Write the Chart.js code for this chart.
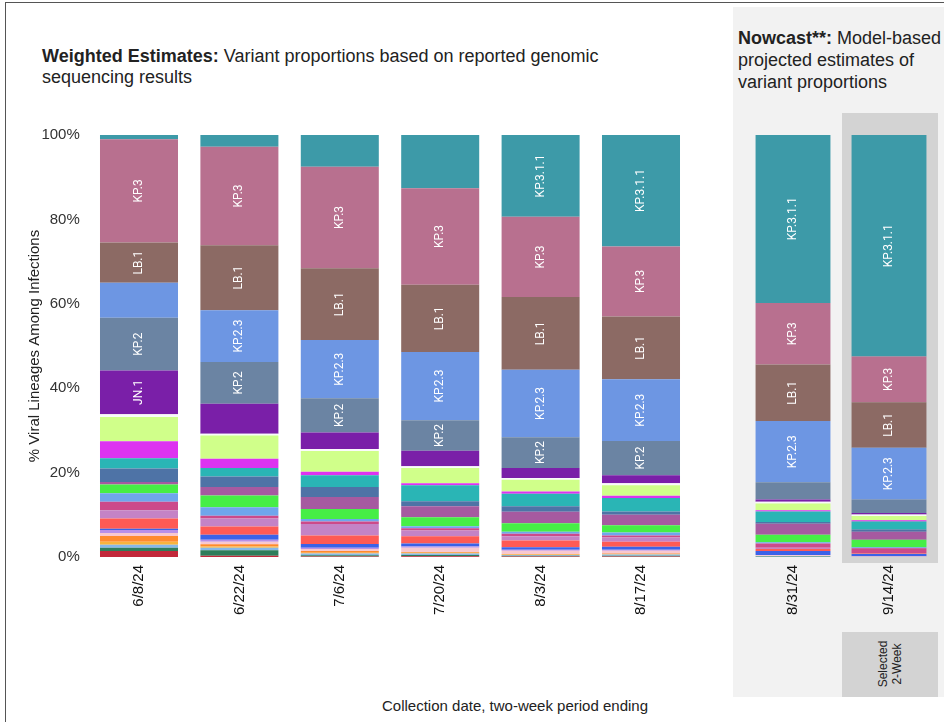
<!DOCTYPE html>
<html>
<head>
<meta charset="utf-8">
<script src="https://cdn.jsdelivr.net/npm/chart.js@4.4.1/dist/chart.umd.min.js"></script>
<style>
  body { margin: 0; width: 944px; height: 722px; position: relative; overflow: hidden; background: #fff;
         font-family: "Liberation Sans", Arial, sans-serif; color: #222; }
  #frame { position: absolute; left: 5px; top: 2px; width: 980px; height: 760px; border: 1.5px solid #555; }
  #nowbg { position: absolute; left: 733px; top: 7px; width: 211px; height: 690px; background: #f2f2f2; }
  #selcol { position: absolute; left: 842px; top: 113px; width: 96px; height: 450px; background: #d3d3d3; }
  #selbox { position: absolute; left: 842px; top: 632px; width: 96px; height: 65px; background: #d3d3d3; }
  #selbox div { position: absolute; left: 48px; top: 32px; width: 70px; transform: translate(-50%, -50%) rotate(-90deg);
                font-size: 12px; line-height: 14px; text-align: center; color: #222; }
  .title { position: absolute; font-size: 18px; }
  #t1 { left: 42px; top: 46px; line-height: 21px; width: 575px; }
  #t2 { left: 738px; top: 27px; line-height: 22px; width: 215px; }
  #xtitle { position: absolute; left: 315px; top: 697px; width: 400px; text-align: center; font-size: 15px; }
  #left { position: absolute; left: 0; top: 0; width: 700px; height: 722px; }
  #right { position: absolute; left: 733px; top: 0; width: 211px; height: 722px; }
</style>
</head>
<body>
<div id="frame"></div>
<div id="nowbg"></div>
<div id="selcol"></div>
<div id="selbox"><div>Selected<br>2-Week</div></div>
<div class="title" id="t1"><b>Weighted Estimates:</b> Variant proportions based on reported genomic sequencing results</div>
<div class="title" id="t2"><b>Nowcast**:</b> Model-based projected estimates of variant proportions</div>
<div id="xtitle">Collection date, two-week period ending</div>
<div id="left"><canvas id="leftChart" width="700" height="722"></canvas></div>
<div id="right"><canvas id="rightChart" width="211" height="722"></canvas></div>

<script>
// two-week periods: first 6 are weighted estimates, last 2 are nowcast
var dates = ["6/8/24", "6/22/24", "7/6/24", "7/20/24", "8/3/24", "8/17/24", "8/31/24", "9/14/24"];

// % of infections per lineage, one value per period (stack order: bottom to top)
var xdp      = [1.4, 0.3, 0.1, 0.2, 0.1, 0.1, 0, 0];
var jn1131   = [0.8, 1.3, 0.3, 0.3, 0.2, 0.2, 0.1, 0];
var jn181    = [0.7, 0.6, 0.4, 0.3, 0.2, 0.3, 0.1, 0];
var jn143    = [0.7, 0.3, 0.2, 0.2, 0.1, 0.1, 0, 0];
var jn1111   = [1.4, 0.5, 0.4, 0.2, 0.1, 0.1, 0, 0];
var kp12     = [0.7, 0.6, 0.5, 1.0, 0.8, 0.7, 0.2, 0.1];
var kq1      = [0.7, 0.5, 0.3, 0.3, 0.2, 0.2, 0.1, 0.1];
var kp41     = [0.3, 1.2, 0.9, 0.7, 0.6, 0.7, 0.9, 0.5];
var jn116    = [2.4, 1.9, 2.0, 1.7, 1.6, 1.2, 0.5, 0.1];
var kp33     = [2.0, 1.9, 2.7, 1.4, 1.0, 1.0, 0.3, 0.1];
var ks1      = [2.0, 0.7, 0.6, 0.5, 0.6, 0.5, 1.0, 1.2];
var jn118    = [2.0, 2.0, 0.6, 0.5, 0.5, 0.7, 0.3, 0.2];
var kp113    = [2.1, 2.8, 2.4, 2.1, 2.0, 1.7, 1.8, 1.8];
var jn1161   = [0.6, 2.0, 2.8, 2.6, 2.7, 2.5, 2.6, 1.9];
var kp215    = [3.2, 2.5, 2.4, 1.2, 1.3, 0.8, 0.4, 0.5];
var xec      = [2.4, 2.0, 2.8, 3.8, 3.0, 3.2, 2.5, 1.9];
var jn17     = [4.0, 2.2, 0.8, 0.5, 0.5, 0.5, 0.3, 0.3];
var kp11     = [5.8, 5.5, 4.9, 3.6, 2.8, 2.5, 1.6, 1.0];
var other    = [0.6, 0.4, 0.5, 0.4, 0.4, 0.5, 0.4, 0.4];
var jn1      = [10.4, 7.1, 3.9, 3.7, 2.4, 1.9, 0.5, 0.3];
var kp2      = [12.5, 9.9, 8.1, 7.2, 7.3, 8.1, 4.1, 3.2];
var kp23     = [8.3, 12.3, 13.8, 16.2, 16.0, 14.6, 14.5, 12.3];
var lb1      = [9.5, 15.4, 17.0, 15.9, 17.2, 14.9, 13.4, 10.8];
var kp3      = [24.5, 23.3, 24.1, 22.9, 19.0, 16.6, 14.6, 10.8];
var kp311    = [1.0, 2.8, 7.5, 12.6, 19.4, 26.5, 39.9, 52.5];

// which periods carry a name label inside the bar
var kp311Labels = [4, 5, 6, 7];
var kp3Labels = [0, 1, 2, 3, 4, 5, 6, 7];
var lb1Labels = [0, 1, 2, 3, 4, 5, 6, 7];
var kp23Labels = [1, 2, 3, 4, 5, 6, 7];
var kp2Labels = [0, 1, 2, 3, 4, 5];
var jn1Labels = [0];

var variants = [
  { name: "XDP", color: "#c2283a", values: xdp },
  { name: "JN.1.13.1", color: "#2e7d5a", values: jn1131 },
  { name: "JN.1.8.1", color: "#86b8e8", values: jn181 },
  { name: "JN.1.4.3", color: "#f7b43c", values: jn143 },
  { name: "JN.1.11.1", color: "#ff8a2e", values: jn1111 },
  { name: "KP.1.2", color: "#f8c8d0", values: kp12 },
  { name: "KQ.1", color: "#b88fe8", values: kq1 },
  { name: "KP.4.1", color: "#3b62e8", values: kp41 },
  { name: "JN.1.16", color: "#ff5a55", values: jn116 },
  { name: "KP.3.3", color: "#c483c6", values: kp33 },
  { name: "KS.1", color: "#cc4a8a", values: ks1 },
  { name: "JN.1.18", color: "#6fa6ec", values: jn118 },
  { name: "KP.1.1.3", color: "#46ee46", values: kp113 },
  { name: "JN.1.16.1", color: "#a65aa0", values: jn1161 },
  { name: "KP.2.15", color: "#4e73a6", values: kp215 },
  { name: "XEC", color: "#2ab5b5", values: xec },
  { name: "JN.1.7", color: "#dd33f0", values: jn17 },
  { name: "KP.1.1", color: "#d0ff8a", values: kp11 },
  { name: "Other", color: "#fafafa", values: other },
  { name: "JN.1", color: "#7a1fa8", values: jn1, labels: jn1Labels },
  { name: "KP.2", color: "#6b84a3", values: kp2, labels: kp2Labels },
  { name: "KP.2.3", color: "#6d96e3", values: kp23, labels: kp23Labels },
  { name: "LB.1", color: "#8c6a64", values: lb1, labels: lb1Labels },
  { name: "KP.3", color: "#b8708f", values: kp3, labels: kp3Labels },
  { name: "KP.3.1.1", color: "#3d9aa8", values: kp311, labels: kp311Labels }
];

// white rotated names drawn in the middle of a segment
var segLabels = {
  id: 'segLabels',
  afterDatasetsDraw: function (chart) {
    var ctx = chart.ctx;
    var offset = chart.options.plugins.segLabels.offset;
    chart.data.datasets.forEach(function (ds, i) {
      if (!ds.labelAt) return;
      chart.getDatasetMeta(i).data.forEach(function (bar, j) {
        if (ds.labelAt.indexOf(j + offset) < 0) return;
        ctx.save();
        ctx.translate(bar.x, (bar.y + bar.base) / 2);
        ctx.rotate(-Math.PI / 2);
        ctx.fillStyle = '#fff';
        ctx.font = '12px Roboto';
        ctx.textAlign = 'center';
        ctx.textBaseline = 'middle';
        ctx.fillText(ds.label, 0, 0);
        ctx.restore();
      });
    });
  }
};

function makeDatasets(from, to, barPct) {
  return variants.map(function (v) {
    return {
      label: v.name,
      data: v.values.slice(from, to),
      backgroundColor: v.color,
      borderWidth: 0,
      barPercentage: barPct,
      categoryPercentage: 1,
      labelAt: v.labels
    };
  });
}

function makeOptions(showY, yWidth, padLeft, padRight, offset) {
  return {
    responsive: false,
    animation: false,
    layout: { padding: { top: 135, left: padLeft, right: padRight, bottom: 0 } },
    plugins: { legend: { display: false }, tooltip: { enabled: false }, segLabels: { offset: offset } },
    scales: {
      x: {
        stacked: true,
        grid: { display: false, drawTicks: false },
        border: { display: false },
        ticks: { minRotation: 90, maxRotation: 90, padding: 8, color: '#111',
                 font: { family: 'Liberation Sans', size: 15 } },
        afterFit: function (s) { s.height = 165; }
      },
      y: {
        display: showY,
        stacked: true,
        min: 0,
        max: 100,
        grid: { display: false, drawTicks: false },
        border: { display: false },
        ticks: { stepSize: 20, padding: 9, color: '#333',
                 font: { family: 'Liberation Sans', size: 15 },
                 callback: function (v) { return v + '%'; } },
        title: { display: true, text: '% Viral Lineages Among Infections', color: '#222',
                 font: { family: 'Liberation Sans', size: 15 }, padding: { top: 6, bottom: 0 } },
        afterFit: function (s) { s.width = yWidth; }
      }
    }
  };
}

new Chart(document.getElementById('leftChart'), {
  type: 'bar',
  data: { labels: dates.slice(0, 6), datasets: makeDatasets(0, 6, 0.777) },
  options: makeOptions(true, 68.8, 20, 8.8, 0),
  plugins: [segLabels]
});

new Chart(document.getElementById('rightChart'), {
  type: 'bar',
  data: { labels: dates.slice(6), datasets: makeDatasets(6, 8, 0.78) },
  options: makeOptions(false, 0, 12, 7, 6),
  plugins: [segLabels]
});
</script>
</body>
</html>
